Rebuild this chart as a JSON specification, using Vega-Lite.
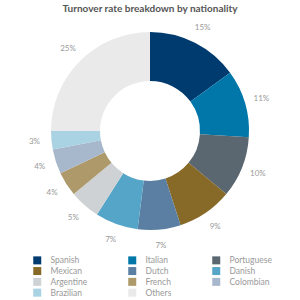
{
  "$schema": "https://vega.github.io/schema/vega-lite/v6.json",
  "autosize": {"type": "none"},
  "padding": {"top": 20, "left": 0, "right": 0, "bottom": 58},
  "width": 300,
  "height": 222,
  "title": {"text": "Turnover rate breakdown by nationality", "font": "Lato", "fontSize": 10, "fontWeight": "bold", "color": "#555555", "anchor": "middle", "offset": 6},
  "config": {"view": {"stroke": null}, "font": "Lato"},
  "data": {"values": [
    {"nat": "Spanish", "v": 0.15, "o": 1},
    {"nat": "Italian", "v": 0.11, "o": 2},
    {"nat": "Portuguese", "v": 0.10, "o": 3},
    {"nat": "Mexican", "v": 0.09, "o": 4},
    {"nat": "Dutch", "v": 0.07, "o": 5},
    {"nat": "Danish", "v": 0.07, "o": 6},
    {"nat": "Argentine", "v": 0.05, "o": 7},
    {"nat": "French", "v": 0.04, "o": 8},
    {"nat": "Colombian", "v": 0.04, "o": 9},
    {"nat": "Brazilian", "v": 0.03, "o": 10},
    {"nat": "Others", "v": 0.25, "o": 11}
  ]},
  "encoding": {
    "theta": {"field": "v", "type": "quantitative", "stack": true},
    "order": {"field": "o", "type": "quantitative"}
  },
  "layer": [
    {
      "mark": {"type": "arc", "outerRadius": 99, "innerRadius": 50},
      "encoding": {
        "color": {
          "field": "nat", "type": "nominal",
          "scale": {
            "domain": ["Spanish", "Italian", "Portuguese", "Mexican", "Dutch", "Danish", "Argentine", "French", "Colombian", "Brazilian", "Others"],
            "range": ["#003B6F", "#0077A8", "#5A6670", "#876A28", "#5A7FA3", "#55A5C8", "#CED2D4", "#AD9969", "#A8B8CC", "#A9D2E3", "#EAEAEA"]
          },
          "legend": {
            "title": null, "orient": "none", "legendX": 33, "legendY": 236,
            "direction": "horizontal",
            "columns": 3, "gridAlign": "each", "columnPadding": 40, "rowPadding": 1.8,
            "symbolType": "square", "symbolSize": 64, "symbolStrokeWidth": 0,
            "labelFontSize": 8.5, "labelColor": "#999999", "labelOffset": 9, "labelFont": "Lato"
          }
        }
      }
    },
    {
      "mark": {"type": "text", "radius": 116, "fontSize": 8, "color": "#999999", "font": "Lato"},
      "encoding": {
        "text": {"field": "v", "type": "quantitative", "format": ".0%"},
        "detail": {"field": "nat"}
      }
    }
  ]
}
